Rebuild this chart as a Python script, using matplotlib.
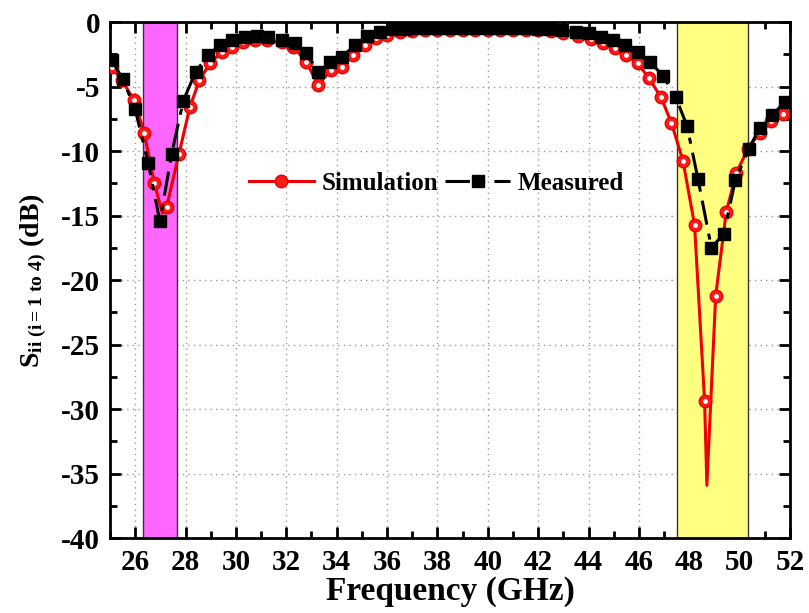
import matplotlib
matplotlib.use("Agg")
import matplotlib.pyplot as plt
from matplotlib.ticker import MultipleLocator
from matplotlib.lines import Line2D

plt.rcParams['font.family'] = ['Liberation Serif', 'DejaVu Serif']
plt.rcParams['font.weight'] = 'bold'
plt.rcParams['axes.unicode_minus'] = False
plt.rcParams['mathtext.fontset'] = 'custom'
plt.rcParams['mathtext.rm'] = 'Liberation Serif:bold'
plt.rcParams['mathtext.bf'] = 'Liberation Serif:bold'
plt.rcParams['mathtext.it'] = 'Liberation Serif:bold'

# Simulation (line points; markers only where drawn in the source)
sim_f = [25.07, 25.46, 25.96, 26.36, 26.76, 27.08, 27.25, 27.74, 28.17, 28.55,
         28.97, 29.43, 29.83, 30.30, 30.75, 31.22, 31.81, 32.27, 32.80, 33.26,
         33.77, 34.20, 34.65, 35.12, 35.58, 35.98, 36.50, 37.00, 37.50, 38.00,
         38.50, 39.00, 39.50, 40.00, 40.50, 41.00, 41.50, 42.00, 42.50, 43.00,
         43.60, 44.10, 44.58, 45.04, 45.50, 45.96, 46.40, 46.87, 47.29, 47.75,
         48.21, 48.61, 48.70, 49.05, 49.47, 49.87, 50.33, 50.79, 51.26, 51.72,
         52.00]
sim_db = [-3.46, -4.50, -6.05, -8.60, -12.50, -14.80, -14.30, -10.20, -6.60, -4.50,
          -3.20, -2.30, -1.90, -1.55, -1.40, -1.40, -1.55, -1.90, -3.10, -4.90,
          -3.72, -3.46, -2.56, -1.78, -1.26, -1.00, -0.75, -0.68, -0.63, -0.60,
          -0.59, -0.58, -0.58, -0.58, -0.58, -0.59, -0.60, -0.62, -0.70, -0.85,
          -1.10, -1.35, -1.65, -2.04, -2.56, -3.20, -4.36, -5.79, -7.80, -10.75,
          -15.70, -29.40, -35.90, -21.20, -14.70, -11.70, -9.80, -8.60, -7.70, -7.10,
          -6.95]
sim_nomark = [5, 52, 60]

# Measured
meas_f = [25.07, 25.50, 25.99, 26.52, 26.98, 27.45, 27.91, 28.40, 28.90, 29.37,
          29.83, 30.36, 30.82, 31.28, 31.81, 32.34, 32.80, 33.27, 33.73, 34.22,
          34.72, 35.21, 35.71, 36.24, 36.72, 37.20, 37.68, 38.16, 38.64, 39.12,
          39.60, 40.08, 40.56, 41.04, 41.52, 42.00, 42.48, 42.96, 43.50, 44.00,
          44.51, 44.97, 45.44, 45.96, 46.43, 46.96, 47.46, 47.91, 48.35, 48.88,
          49.37, 49.83, 50.37, 50.79, 51.30, 51.79, 52.00]
meas_db = [-2.95, -4.40, -6.70, -10.95, -15.45, -10.20, -6.10, -3.85, -2.56, -1.78,
           -1.40, -1.19, -1.09, -1.14, -1.40, -1.65, -2.43, -3.85, -3.08, -2.69,
           -1.78, -1.09, -0.75, -0.57, -0.50, -0.47, -0.45, -0.44, -0.43, -0.43,
           -0.43, -0.43, -0.44, -0.45, -0.47, -0.50, -0.55, -0.62, -0.75, -0.88,
           -1.14, -1.40, -1.78, -2.30, -3.07, -4.16, -5.80, -8.04, -12.20, -17.50,
           -16.40, -12.25, -9.80, -8.24, -7.20, -6.20, -5.90]
meas_nomark = [56]

band1 = (26.32, 27.65)
band2 = (47.52, 50.35)

fig = plt.figure(figsize=(8.09, 6.13), dpi=100)
ax = fig.add_axes([0.136, 0.122, 0.8405, 0.842])

ax.axvspan(*band1, facecolor='#ff66ff', edgecolor='#333333', lw=1.0, zorder=1)
ax.axvspan(*band2, facecolor='#ffff80', edgecolor='#333333', lw=1.0, zorder=1)

sim_mk = [i for i in range(len(sim_f)) if i not in sim_nomark]
meas_mk = [i for i in range(len(meas_f)) if i not in meas_nomark]

ax.plot(sim_f, sim_db, color='#ee0000', lw=2.2, marker='o', markersize=9,
        markerfacecolor='#ff1a1a', markeredgecolor='#ee0000', markevery=sim_mk,
        zorder=3)
ax.plot([sim_f[i] for i in sim_mk], [sim_db[i] for i in sim_mk], ls='none',
        marker='o', markersize=3.5, markerfacecolor='white', markeredgecolor='none',
        zorder=3.1)
ax.plot(meas_f, meas_db, color='black', lw=2.2, ls='-.', dashes=(8, 3, 2, 3),
        marker='s', markersize=9, markerfacecolor='black', markeredgecolor='black',
        markevery=meas_mk, zorder=4)

h1 = Line2D([], [], color='#ee0000', lw=2.2, marker='o', markersize=9,
            markerfacecolor='#ff1a1a', markeredgecolor='#ee0000')
h2 = Line2D([], [], color='black', lw=2.2, ls='-.', dashes=(8, 3, 2, 3), marker='s',
            markersize=8, markerfacecolor='black')
leg = ax.legend([h1, h2], ['Simulation', 'Measured'], loc='center',
                bbox_to_anchor=(0.48, 0.688), ncol=2, frameon=False,
                prop={'family': 'Liberation Serif', 'weight': 'bold', 'size': 18},
                handlelength=2.6, columnspacing=0.3, handletextpad=0.3)

ax.set_xlim(25, 52)
ax.set_ylim(-40, 0)
ax.xaxis.set_minor_locator(MultipleLocator(1))
ax.yaxis.set_major_locator(MultipleLocator(5))
ax.yaxis.set_minor_locator(MultipleLocator(2.5))
ax.set_xticks([26, 28, 30, 32, 34, 36, 38, 40, 42, 44, 46, 48, 50, 52])
ax.grid(True, which='major', ls=(0, (1, 3)), color='#999999', lw=1.0, zorder=0)
ax.set_axisbelow(True)

ax.tick_params(which='both', direction='in', top=True, right=True,
               labelsize=21, width=2)
ax.tick_params(which='major', length=8)
ax.tick_params(which='minor', length=5)
ax.tick_params(axis='x', pad=8)
ax.tick_params(axis='y', pad=7)
for lab in ax.get_xticklabels() + ax.get_yticklabels():
    lab.set_fontweight('bold')
for s in ax.spines.values():
    s.set_linewidth(2)

ax.set_xlabel('Frequency (GHz)', fontsize=24, fontweight='bold', labelpad=0)
ax.set_ylabel(r'S$_{\mathbf{ii\ (i=1\ to\ 4)}}$ (dB)', fontsize=20,
              fontweight='bold', labelpad=9)

fig.savefig('out.png', dpi=100)
